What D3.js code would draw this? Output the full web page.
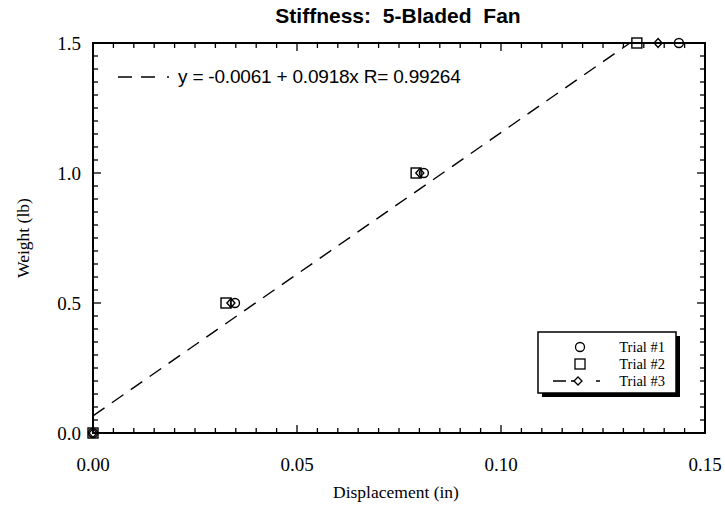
<!DOCTYPE html>
<html>
<head>
<meta charset="utf-8">
<script src="https://cdn.jsdelivr.net/npm/d3@7"></script>
<style>
  body { margin: 0; background: #fff; }
  svg { display: block; }
</style>
</head>
<body>
<div id="chart"></div>
<script>
// values
const weights = [0, 0.5, 1.0, 1.5];
const trial1 = [0, 0.0348, 0.0811, 0.1436];   // circles
const trial2 = [0, 0.0326, 0.0792, 0.1333];   // squares
const trial3 = [0, 0.0338, 0.0801, 0.1385];   // diamonds
const fitLine = [{x: 0, y: 0.066}, {x: 0.1316, y: 1.5}];
const fitLabel = "y = -0.0061 + 0.0918x R= 0.99264";
const xTicks = [0, 0.05, 0.10, 0.15];
const yTicks = [0, 0.5, 1.0, 1.5];
const legendLabels = ["Trial #1", "Trial #2", "Trial #3"];

const W = 725, H = 512;
const margin = {left: 93, right: 20, top: 43, bottom: 79};

const svg = d3.select("#chart").append("svg")
    .attr("width", W).attr("height", H);

const x = d3.scaleLinear().domain([0, 0.15]).range([margin.left, W - margin.right]);
const y = d3.scaleLinear().domain([0, 1.5]).range([H - margin.bottom, margin.top]);

const serif = "'Liberation Serif', 'Times New Roman', serif";
const sans = "'Liberation Sans', Arial, sans-serif";

// title
svg.append("text")
    .attr("x", 398).attr("y", 23)
    .attr("text-anchor", "middle")
    .style("font-family", sans).style("font-weight", "bold")
    .style("font-size", "21px").style("word-spacing", "6px")
    .text("Stiffness: 5-Bladed Fan");

// ticks on all four sides, pointing inward
function tickSet(step, max) {
    return d3.range(0, Math.round(max / step) + 1).map(i => +(i * step).toFixed(4));
}
const xMinor = tickSet(0.005, 0.15);
const yMinor = tickSet(0.05, 1.5);
const isMajor = (v, s) => Math.abs(v / s - Math.round(v / s)) < 1e-6;

const axisG = svg.append("g").attr("stroke", "#000").attr("stroke-width", 1.3);
xMinor.forEach(v => {
    const len = isMajor(v, 0.05) ? 8 : 5;
    axisG.append("line").attr("x1", x(v)).attr("x2", x(v))
        .attr("y1", y(0)).attr("y2", y(0) - len);
    axisG.append("line").attr("x1", x(v)).attr("x2", x(v))
        .attr("y1", y(1.5)).attr("y2", y(1.5) + len);
});
yMinor.forEach(v => {
    const len = isMajor(v, 0.5) ? 8 : 5;
    axisG.append("line").attr("x1", x(0)).attr("x2", x(0) + len)
        .attr("y1", y(v)).attr("y2", y(v));
    axisG.append("line").attr("x1", x(0.15)).attr("x2", x(0.15) - len)
        .attr("y1", y(v)).attr("y2", y(v));
});

// frame
svg.append("rect")
    .attr("x", x(0)).attr("y", y(1.5))
    .attr("width", x(0.15) - x(0)).attr("height", y(0) - y(1.5))
    .attr("fill", "none").attr("stroke", "#000").attr("stroke-width", 2);

// tick labels
svg.selectAll(".xl").data(xTicks).enter().append("text")
    .attr("x", d => x(d)).attr("y", y(0) + 38)
    .attr("text-anchor", "middle")
    .style("font-family", serif).style("font-size", "19px")
    .text(d => d3.format(".2f")(d));
svg.selectAll(".yl").data(yTicks).enter().append("text")
    .attr("x", x(0) - 12).attr("y", d => y(d) + 7)
    .attr("text-anchor", "end")
    .style("font-family", serif).style("font-size", "19px")
    .text(d => d3.format(".1f")(d));

// axis titles
svg.append("text")
    .attr("x", 396).attr("y", 498)
    .attr("text-anchor", "middle")
    .style("font-family", serif).style("font-size", "17.5px")
    .text("Displacement (in)");
svg.append("text")
    .attr("transform", `translate(29,${(y(0) + y(1.5)) / 2}) rotate(-90)`)
    .attr("text-anchor", "middle")
    .style("font-family", serif).style("font-size", "17.5px")
    .text("Weight (lb)");

// fit line
svg.append("path")
    .datum(fitLine)
    .attr("d", d3.line().x(d => x(d.x)).y(d => y(d.y)))
    .attr("fill", "none").attr("stroke", "#000").attr("stroke-width", 1.4)
    .attr("stroke-dasharray", "14,9");

// markers
const mk = svg.append("g").attr("fill", "none").attr("stroke", "#000").attr("stroke-width", 1.4);
function circle(g, cx, cy) {
    g.append("circle").attr("cx", cx).attr("cy", cy).attr("r", 4.5);
}
function square(g, cx, cy) {
    g.append("rect").attr("x", cx - 5).attr("y", cy - 5).attr("width", 10).attr("height", 10);
}
function diamond(g, cx, cy) {
    g.append("path").attr("d", `M${cx},${cy - 4.5}L${cx + 4},${cy}L${cx},${cy + 4.5}L${cx - 4},${cy}Z`);
}
weights.forEach((w, i) => {
    square(mk, x(trial2[i]), y(w));
    diamond(mk, x(trial3[i]), y(w));
    circle(mk, x(trial1[i]), y(w));
});

// fit label with line sample
const fy = 77;
svg.append("line")
    .attr("x1", 118).attr("x2", 172).attr("y1", fy).attr("y2", fy)
    .attr("stroke", "#000").attr("stroke-width", 1.4)
    .attr("stroke-dasharray", "14,9,14,12,2,10");
svg.append("text")
    .attr("x", 178).attr("y", fy + 6)
    .style("font-family", sans).style("font-size", "19px")
    .style("letter-spacing", "-0.2px")
    .text(fitLabel);

// legend with drop shadow
const lg = {x: 538, y: 332, w: 138, h: 61};
svg.append("rect").attr("x", lg.x + 4).attr("y", lg.y + 4)
    .attr("width", lg.w).attr("height", lg.h).attr("fill", "#000");
svg.append("rect").attr("x", lg.x).attr("y", lg.y)
    .attr("width", lg.w).attr("height", lg.h)
    .attr("fill", "#fff").attr("stroke", "#000").attr("stroke-width", 1.5);

const rowY = [347, 364, 381];
const lm = svg.append("g").attr("fill", "none").attr("stroke", "#000").attr("stroke-width", 1.3);
circle(lm, 580, rowY[0]);
square(lm, 580, rowY[1]);
lm.append("line").attr("x1", 553).attr("x2", 612).attr("y1", rowY[2]).attr("y2", rowY[2])
    .attr("stroke-dasharray", "13,5,11,14,4,50");
lm.append("path").attr("d", `M578,${rowY[2] - 4}L582,${rowY[2]}L578,${rowY[2] + 4}L574,${rowY[2]}Z`)
    .attr("fill", "#fff");
legendLabels.forEach((t, i) => {
    svg.append("text")
        .attr("x", 665).attr("y", rowY[i] + 5)
        .attr("text-anchor", "end")
        .style("font-family", serif).style("font-size", "14.5px")
        .text(t);
});
</script>
</body>
</html>
